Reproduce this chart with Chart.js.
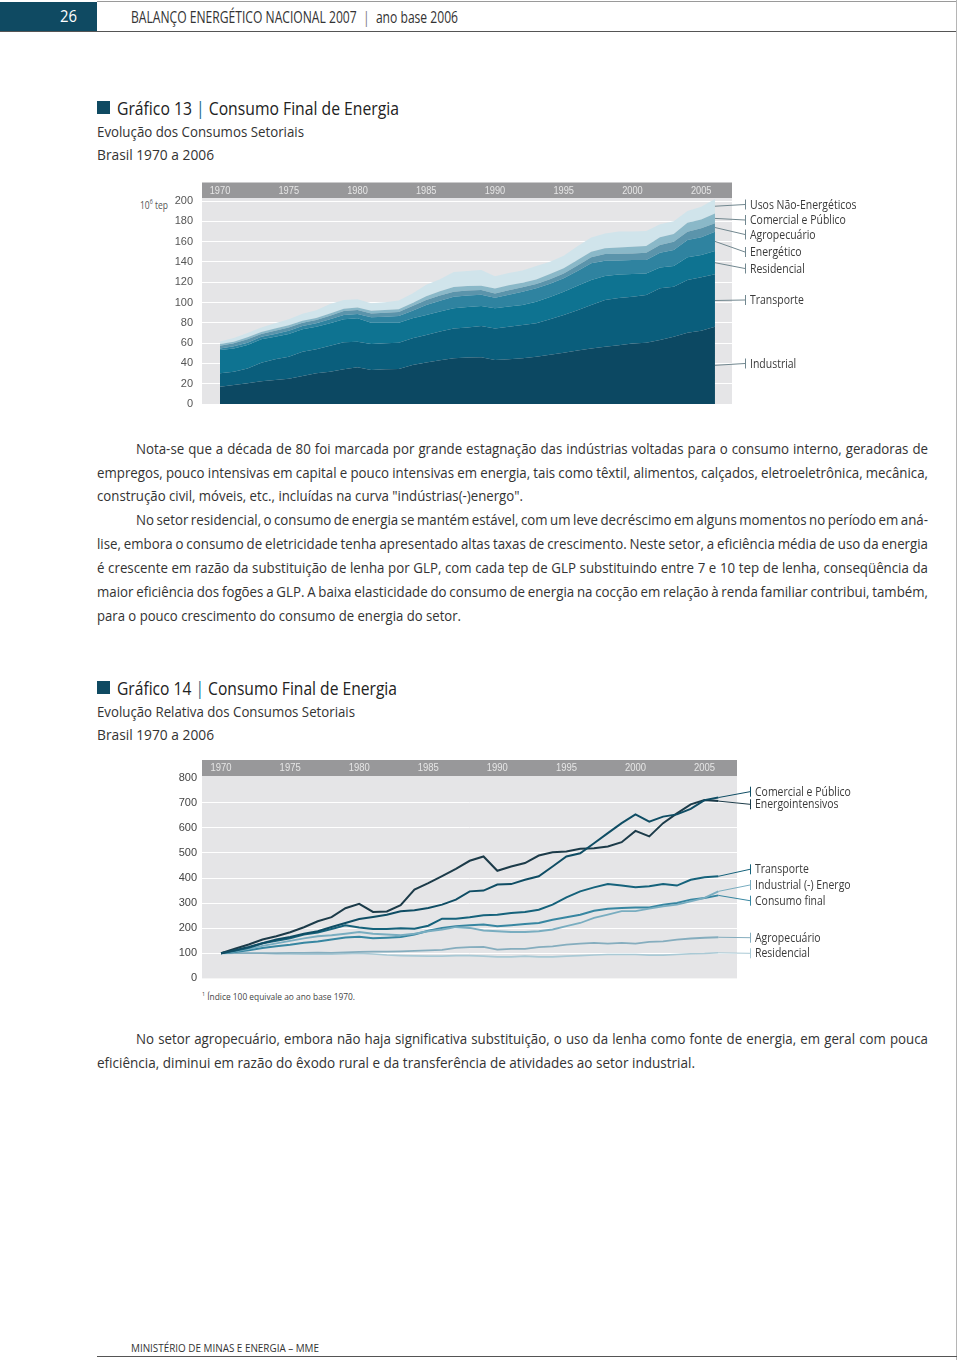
<!DOCTYPE html>
<html lang="pt-BR">
<head>
<meta charset="utf-8">
<title>Consumo Final de Energia</title>
<script src="https://cdn.jsdelivr.net/npm/chart.js@4.4.1/dist/chart.umd.min.js"></script>
<style>
  html, body { margin: 0; padding: 0; background: #fff; }
  body {
    width: 960px; height: 1360px; position: relative; overflow: hidden;
    font-family: "Open Sans", "Noto Sans", sans-serif;
    color: #333;
  }
  .t { position: absolute; white-space: nowrap; }
  .p { position: absolute; white-space: nowrap; font-size: 14.7px; line-height: 14.7px; color: #333; }
  .bar { color: #1d6b88; }
  canvas { position: absolute; left: 0; }
</style>
</head>
<body>

<!-- cabeçalho -->
<div style="position:absolute;left:97px;top:1px;width:860px;height:1px;background:#9a9a9a"></div>
<div style="position:absolute;left:0;top:2px;width:97px;height:30px;background:#0f4a62"></div>
<div style="position:absolute;left:0;top:31px;width:957px;height:1px;background:#555"></div>
<div style="position:absolute;left:956px;top:0;width:1px;height:1360px;background:#b5b5b5"></div>
<div class="t" data-w="17" style="left:60px;top:9px;font-size:15.5px;line-height:15.5px;color:#fff">26</div>
<div class="t" data-w="327" style="left:131px;top:8.5px;font-size:16.5px;line-height:16.5px;color:#333">BALANÇO ENERGÉTICO NACIONAL 2007 <span style="color:#777">&nbsp;|&nbsp;</span> ano base 2006</div>

<!-- Gráfico 13 -->
<div style="position:absolute;left:97px;top:101px;width:13px;height:13px;background:#0f4a62"></div>
<div class="t" data-w="282" style="left:117px;top:99px;font-size:18px;line-height:18px;color:#222">Gráfico 13 <span class="bar">|</span> Consumo Final de Energia</div>
<div class="t" data-w="207" style="left:97px;top:124.5px;font-size:14px;line-height:14px">Evolução dos Consumos Setoriais</div>
<div class="t" data-w="117" style="left:97px;top:148px;font-size:14px;line-height:14px">Brasil 1970 a 2006</div>
<div class="t" data-w="28" style="left:140px;top:196px;font-size:11px;line-height:11px;color:#555">10<sup style="font-size:7px">6</sup> tep</div>
<canvas id="c13" width="960" height="250" style="top:170px"></canvas>

<!-- texto -->
<div class="p j" data-w="792" style="left:136px;top:440.5px">Nota-se que a década de 80 foi marcada por grande estagnação das indústrias voltadas para o consumo interno, geradoras de</div>
<div class="p j" data-w="831" style="left:97px;top:464.5px">empregos, pouco intensivas em capital e pouco intensivas em energia, tais como têxtil, alimentos, calçados, eletroeletrônica, mecânica,</div>
<div class="p r" data-w="426" style="left:97px;top:488px">construção civil, móveis, etc., incluídas na curva "indústrias(-)energo".</div>
<div class="p j" data-w="792" style="left:136px;top:512px">No setor residencial, o consumo de energia se mantém estável, com um leve decréscimo em alguns momentos no período em aná-</div>
<div class="p j" data-w="831" style="left:97px;top:536px">lise, embora o consumo de eletricidade tenha apresentado altas taxas de crescimento. Neste setor, a eficiência média de uso da energia</div>
<div class="p j" data-w="831" style="left:97px;top:560px">é crescente em razão da substituição de lenha por GLP, com cada tep de GLP substituindo entre 7 e 10 tep de lenha, conseqüência da</div>
<div class="p j" data-w="831" style="left:97px;top:583.5px">maior eficiência dos fogões a GLP. A baixa elasticidade do consumo de energia na cocção em relação à renda familiar contribui, também,</div>
<div class="p r" data-w="364" style="left:97px;top:607.5px">para o pouco crescimento do consumo de energia do setor.</div>

<!-- Gráfico 14 -->
<div style="position:absolute;left:97px;top:681px;width:13px;height:13px;background:#0f4a62"></div>
<div class="t" data-w="280" style="left:117px;top:679px;font-size:18px;line-height:18px;color:#222">Gráfico 14 <span class="bar">|</span> Consumo Final de Energia</div>
<div class="t" data-w="258" style="left:97px;top:704.5px;font-size:14px;line-height:14px">Evolução Relativa dos Consumos Setoriais</div>
<div class="t" data-w="117" style="left:97px;top:728px;font-size:14px;line-height:14px">Brasil 1970 a 2006</div>
<canvas id="c14" width="960" height="240" style="top:750px"></canvas>
<div class="t" data-w="153" style="left:202px;top:990px;font-size:9.3px;line-height:9.3px;color:#444"><sup style="font-size:6px">1</sup> Índice 100 equivale ao ano base 1970.</div>

<div class="p j" data-w="792" style="left:136px;top:1030.5px">No setor agropecuário, embora não haja significativa substituição, o uso da lenha como fonte de energia, em geral com pouca</div>
<div class="p r" data-w="598" style="left:97px;top:1054.5px">eficiência, diminui em razão do êxodo rural e da transferência de atividades ao setor industrial.</div>

<!-- rodapé -->
<div class="t" data-w="188" style="left:131px;top:1342px;font-size:11.5px;line-height:11.5px;color:#333">MINISTÉRIO DE MINAS E ENERGIA – MME</div>
<div style="position:absolute;left:97px;top:1356px;width:860px;height:1px;background:#555"></div>

<script>
// ---- dados ----
const years = [1970,1971,1972,1973,1974,1975,1976,1977,1978,1979,
               1980,1981,1982,1983,1984,1985,1986,1987,1988,1989,
               1990,1991,1992,1993,1994,1995,1996,1997,1998,1999,
               2000,2001,2002,2003,2004,2005,2006];
const tickYears = [1970,1975,1980,1985,1990,1995,2000,2005];
const yTicks13 = [0,20,40,60,80,100,120,140,160,180,200];
const yTicks14 = [0,100,200,300,400,500,600,700,800];

// Gráfico 13 - 10^6 tep
const industrial  = [17.1,18.7,20.4,22.3,23.6,25.0,27.6,30.2,31.9,34.2, 36.1,33.5,34.2,34.5,38.4,41.0,43.0,45.0,45.8,46.0, 43.3,44.2,45.0,46.6,48.5,50.6,52.8,54.8,56.5,58.0, 59.5,60.4,63.0,66.3,70.3,72.2,76.2];
const transporte  = [13.1,13.2,14.7,18.4,20.4,21.6,24.0,23.7,25.6,26.6, 25.3,25.6,25.6,25.9,26.3,27.0,28.5,29.5,29.7,30.8, 31.2,32.0,32.8,32.9,35.0,37.1,39.7,42.7,46.0,46.5, 46.2,47.0,51.0,49.3,51.9,52.6,51.6];
const residencial = [23.0,22.9,23.0,23.0,22.3,22.4,22.0,22.3,22.0,22.6, 23.0,21.0,20.3,19.7,19.7,19.7,19.7,19.8,20.0,19.7, 19.8,19.8,19.7,21.3,22.0,23.0,24.0,24.7,23.6,23.0, 22.4,21.3,20.6,20.4,22.3,22.0,22.9];
const energetico  = [1.6,2.0,2.3,2.6,2.7,3.2,3.2,3.3,3.9,4.3, 4.3,5.3,5.9,6.6,7.6,9.8,10.6,11.4,11.5,11.2, 10.4,11.6,13.2,13.2,13.0,13.1,14.5,16.4,15.1,14.0, 13.8,13.2,14.5,15.7,17.1,17.4,19.1];
const agropecuario= [2.7,3.0,3.3,2.7,3.2,3.3,3.3,3.3,3.6,3.9, 3.9,3.9,4.0,3.9,4.6,5.0,5.0,5.0,4.8,4.6, 4.3,4.4,4.3,4.2,4.5,4.9,5.5,5.9,6.6,6.5, 6.5,7.2,7.6,8.2,8.2,8.9,8.2];
const comercial   = [1.6,1.6,2.0,2.0,2.3,2.0,2.0,1.9,2.3,2.3, 2.6,2.7,2.6,2.7,3.0,3.6,4.2,4.5,4.4,4.3, 4.7,5.0,4.5,4.6,5.0,5.0,5.5,5.6,5.6,6.3, 6.6,6.6,7.5,7.6,8.9,8.8,9.8];
const naoEnerg    = [2.4,3.6,4.3,4.5,5.1,6.0,6.9,7.8,9.2,8.6, 8.0,7.4,7.6,8.7,9.4,11.4,12.0,14.8,14.8,15.4, 12.3,12.0,12.0,13.2,12.3,12.3,13.5,13.9,14.6,15.7, 15.0,14.8,13.0,12.5,11.5,12.5,14.2];

// Gráfico 14 - índice 1970 = 100
const idxComercial = [100,112,125,140,155,165,178,188,205,221, 237,245,254,268,272,281,294,314,347,350, 374,376,393,407,446,486,499,539,579,619, 654,625,645,654,676,711,721];
const idxEnergoint = [100,118,135,155,168,184,204,228,244,280, 297,265,267,292,354,380,408,437,469,486, 429,446,460,490,503,506,517,519,526,543, 588,566,619,658,694,711,707];
const idxTransporte= [100,110,122,140,150,160,175,183,197,212, 203,197,197,200,198,210,238,238,244,252, 254,261,265,274,294,323,347,363,376,370, 363,367,376,370,393,403,407];
const idxIndEnergo = [100,108,118,130,140,150,160,168,172,178, 185,178,175,172,178,188,195,204,201,191, 188,185,185,188,195,208,221,241,254,268, 268,278,287,294,307,321,347];
const idxConsumo   = [100,105,112,121,128,134,142,147,155,163, 166,160,162,165,175,190,201,208,212,215, 208,212,217,221,234,244,254,270,278,281, 283,283,294,301,314,321,331];
const idxAgro      = [100,101,101,101,101,102,102,103,102,104, 106,107,107,108,110,112,114,122,125,126, 115,118,118,125,128,135,139,142,139,142, 139,146,148,155,159,162,164];
const idxResid     = [100,100,100,100,97,97,96,96,96,98, 100,97,93,91,90,89,89,91,91,89, 86,86,89,86,86,89,91,93,95,95, 95,93,93,95,98,99,102];

const SANS = '"Open Sans", "Noto Sans", sans-serif';
const ARIAL = '"Liberation Sans", Arial, sans-serif';

// ajusta a largura dos textos (fonte condensada do original)
function fitTexts() {
  const els = [...document.querySelectorAll('[data-w]')];
  const nat = els.map(el => el.getBoundingClientRect().width);
  const refs = els.map((el, i) => el.classList.contains('r') ? (+el.dataset.w) / nat[i] : null).filter(v => v);
  const K = refs.reduce((a, b) => a + b, 0) / refs.length;
  els.forEach((el, i) => {
    const w = +el.dataset.w;
    let k = w / nat[i];
    if (el.classList.contains('j')) {
      k = K;
      const spaces = (el.textContent.match(/ /g) || []).length;
      el.style.wordSpacing = ((w / K - nat[i]) / spaces) + 'px';
    }
    el.style.transformOrigin = '0 0';
    el.style.transform = 'scaleX(' + k + ')';
  });
}
fitTexts();

// texto condensado no canvas
function condensedText(ctx, text, x, y, k) {
  ctx.save();
  ctx.translate(x, y);
  ctx.scale(k, 1);
  ctx.fillText(text, 0, 0);
  ctx.restore();
}

// fundo cinza da área de plotagem + faixa dos anos no topo
const plotBg = {
  id: 'plotBg',
  beforeDraw(chart, args, opts) {
    const {ctx, chartArea: a} = chart;
    const xs = chart.scales.x;
    ctx.save();
    ctx.fillStyle = '#e5e5e7';
    ctx.fillRect(a.left, a.top, a.right - a.left, a.bottom - a.top);
    ctx.fillStyle = '#98989a';
    ctx.fillRect(a.left, a.top - opts.barHeight, a.right - a.left, opts.barHeight);
    ctx.fillStyle = '#e6e6e6';
    ctx.font = opts.barFont;
    ctx.textAlign = 'center';
    ctx.textBaseline = 'middle';
    tickYears.forEach(y => condensedText(ctx, String(y), xs.getPixelForValue(y), a.top - opts.barHeight / 2 + 0.5, opts.barScale));
    ctx.restore();
  }
};

// linhas de chamada e rótulos à direita
const leaders = {
  id: 'leaders',
  afterDatasetsDraw(chart, args, opts) {
    const {ctx} = chart;
    const ys = chart.scales.y;
    const last = years.length - 1;
    ctx.save();
    ctx.font = opts.font;
    const k = 106.6 / ctx.measureText('Usos Não-Energéticos').width;
    chart.data.datasets.forEach((ds, i) => {
      const pt = chart.getDatasetMeta(i).data[last];
      let y0 = pt.y;
      if (opts.stacked) {
        const base = i === 0 ? ys.getPixelForValue(0) : chart.getDatasetMeta(i - 1).data[last].y;
        y0 = (pt.y + base) / 2;
      }
      const ly = opts.labelY[i];
      ctx.strokeStyle = opts.lineColor || ds.borderColor;
      ctx.lineWidth = 1;
      ctx.beginPath();
      ctx.moveTo(pt.x, y0);
      ctx.lineTo(opts.tickX, ly);
      ctx.moveTo(opts.tickX + 0.5, ly - 5);
      ctx.lineTo(opts.tickX + 0.5, ly + 5);
      ctx.stroke();
      ctx.fillStyle = '#3a3a3a';
      ctx.textAlign = 'left';
      ctx.textBaseline = 'middle';
      condensedText(ctx, ds.label, opts.tickX + 5, ly + 0.5, k);
    });
    ctx.restore();
  }
};

// ---- Gráfico 13: áreas empilhadas ----
const series13 = [
  {label: 'Industrial', values: industrial, color: '#0c4862'},
  {label: 'Transporte', values: transporte, color: '#0a5e7c'},
  {label: 'Residencial', values: residencial, color: '#0e7391'},
  {label: 'Energético', values: energetico, color: '#2f83a0'},
  {label: 'Agropecuário', values: agropecuario, color: '#5b94ab'},
  {label: 'Comercial e Público', values: comercial, color: '#8ab8c8'},
  {label: 'Usos Não-Energéticos', values: naoEnerg, color: '#d0e4eb'}
];

new Chart(document.getElementById('c13'), {
  type: 'line',
  data: {
    datasets: series13.map((s, i) => ({
      label: s.label,
      data: years.map((y, k) => ({x: y, y: s.values[k]})),
      backgroundColor: s.color,
      borderColor: s.color,
      borderWidth: 0,
      pointRadius: 0,
      tension: 0,
      fill: i === 0 ? 'origin' : '-1'
    }))
  },
  options: {
    responsive: false,
    animation: false,
    layout: {padding: {left: 0, top: 28, right: 228, bottom: 16}},
    plugins: {
      legend: {display: false},
      tooltip: {enabled: false},
      plotBg: {barHeight: 15.5, barFont: '11px ' + ARIAL, barScale: 0.84},
      leaders: {stacked: true, tickX: 745, lineColor: '#71878f', font: '12.5px ' + SANS,
                labelY: [193.5, 130, 98.5, 82, 64.5, 50, 34.5]}
    },
    scales: {
      x: {type: 'linear', min: 1968.69, max: 2007.24, display: false},
      y: {
        stacked: true, min: 0, max: 203,
        afterFit(scale) { scale.width = 202; },
        afterBuildTicks(scale) { scale.ticks = yTicks13.map(v => ({value: v})); },
        border: {display: false},
        grid: {color: '#ffffff', lineWidth: 1, drawTicks: false},
        ticks: {padding: 9, color: '#555', font: {family: ARIAL, size: 11}}
      }
    }
  },
  plugins: [plotBg, leaders]
});

// ---- Gráfico 14: linhas (índice) ----
const series14 = [
  {label: 'Comercial e Público', values: idxComercial, color: '#0f4d64', width: 2},
  {label: 'Energointensivos', values: idxEnergoint, color: '#1c3b49', width: 2},
  {label: 'Transporte', values: idxTransporte, color: '#15627b', width: 2},
  {label: 'Industrial (-) Energo', values: idxIndEnergo, color: '#79adc0', width: 1.8},
  {label: 'Consumo final', values: idxConsumo, color: '#3786a1', width: 2},
  {label: 'Agropecuário', values: idxAgro, color: '#85adbe', width: 1.8},
  {label: 'Residencial', values: idxResid, color: '#a9c9d5', width: 1.6}
];

new Chart(document.getElementById('c14'), {
  type: 'line',
  data: {
    datasets: series14.map(s => ({
      label: s.label,
      data: years.map((y, k) => ({x: y, y: s.values[k]})),
      borderColor: s.color,
      borderWidth: s.width,
      pointRadius: 0,
      tension: 0,
      fill: false
    }))
  },
  options: {
    responsive: false,
    animation: false,
    layout: {padding: {left: 0, top: 26, right: 223, bottom: 11}},
    plugins: {
      legend: {display: false},
      tooltip: {enabled: false},
      plotBg: {barHeight: 16, barFont: '10.5px ' + ARIAL, barScale: 0.9},
      leaders: {stacked: false, tickX: 750, font: '12.5px ' + SANS,
                labelY: [41.7, 54.3, 119.3, 135, 150.7, 187.7, 203.3]}
    },
    scales: {
      x: {type: 'linear', min: 1968.62, max: 2007.35, display: false},
      y: {
        min: 0, max: 807,
        afterFit(scale) { scale.width = 202; },
        afterBuildTicks(scale) { scale.ticks = yTicks14.map(v => ({value: v})); },
        border: {display: false},
        grid: {
          color: c => (c.tick && (c.tick.value === 0 || c.tick.value === 800)) ? 'rgba(0,0,0,0)' : '#ffffff',
          lineWidth: 1, drawTicks: false
        },
        ticks: {padding: 5, color: '#444', font: {family: ARIAL, size: 11}}
      }
    }
  },
  plugins: [plotBg, leaders]
});
</script>
</body>
</html>
